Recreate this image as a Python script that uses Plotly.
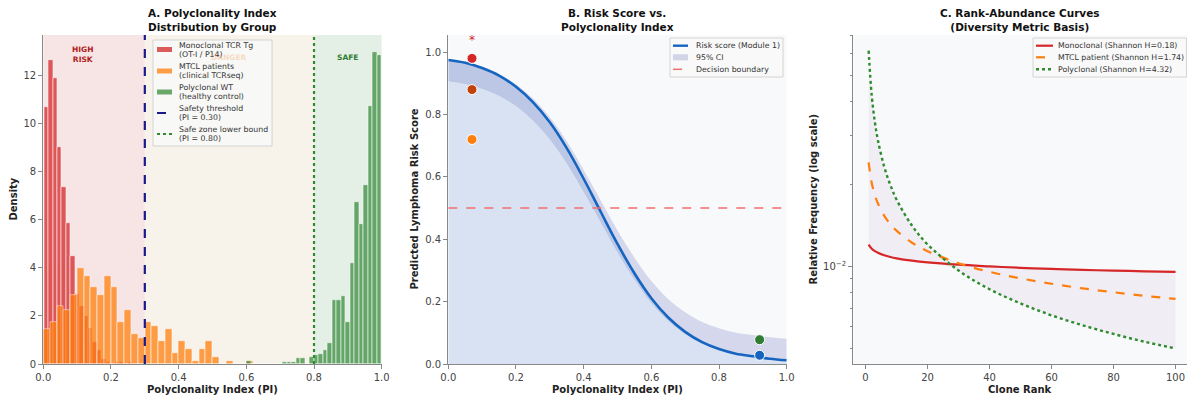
import numpy as np
import plotly.graph_objects as go

W, H = 1187, 396

# ---------------- Panel A: histogram densities ----------------
red_range = (0.002, 0.395)
red_density = [10.7, 12.67, 11.9, 9.03, 7.39, 5.86, 4.5, 2.9, 2.4, 2.0,
               1.5, 0.9, 0.6, 0.2, 0.1, 0.0, 0.1, 0.1, 0.0, 0.1,
               0.0, 0.0, 0.0, 0.0, 0.0, 0.0, 0.0, 0.0, 0.0, 0.0]
orange_range = (0.0, 0.62)
orange_density = [1.44, 1.76, 2.42, 2.25, 2.87, 3.99, 3.68, 3.2, 2.87, 3.68,
                  3.2, 1.76, 2.23, 1.25, 1.1, 1.76, 1.58, 0.96, 1.44, 0.44,
                  0.96, 0.64, 0.14, 0.64, 0.96, 0.29, 0.0, 0.14, 0.0, 0.0, 0.14]
green_range = (0.60, 1.0)
green_density = [0.14, 0.0, 0.0, 0.0, 0.0, 0.0, 0.0, 0.0, 0.1, 0.1,
                 0.1, 0.25, 0.25, 0.0, 0.28, 0.375, 0.42, 0.58, 0.89, 2.67,
                 2.67, 2.83, 1.76, 4.19, 6.74, 5.83, 7.46, 10.76, 13.0, 12.88]
safety_threshold = 0.30
safe_bound = 0.80
legend_a = [("Monoclonal TCR Tg", "(OT-I / P14)"),
            ("MTCL patients", "(clinical TCRseq)"),
            ("Polyclonal WT", "(healthy control)"),
            ("Safety threshold", "(PI = 0.30)"),
            ("Safe zone lower bound", "(PI = 0.80)")]

# ---------------- Panel B: risk curve ----------------
pi_grid = [0.0, 0.05, 0.1, 0.15, 0.2, 0.25, 0.3, 0.35, 0.4, 0.45, 0.5,
           0.55, 0.6, 0.65, 0.7, 0.75, 0.8, 0.85, 0.9, 0.95, 1.0]
risk = [0.975, 0.966, 0.949, 0.925, 0.889, 0.840, 0.775, 0.692, 0.594, 0.489,
        0.385, 0.291, 0.211, 0.149, 0.103, 0.070, 0.048, 0.033, 0.025, 0.017, 0.012]
ci_low = [0.907, 0.898, 0.883, 0.860, 0.827, 0.781, 0.721, 0.644, 0.552, 0.455,
          0.358, 0.271, 0.196, 0.139, 0.096, 0.065, 0.045, 0.031, 0.023, 0.016, 0.011]
ci_high = [0.977, 0.968, 0.953, 0.930, 0.897, 0.851, 0.791, 0.714, 0.622, 0.525,
           0.428, 0.341, 0.266, 0.208, 0.166, 0.135, 0.115, 0.100, 0.093, 0.086, 0.081]
decision_boundary = 0.5
sample_pi = [0.07, 0.07, 0.07, 0.92, 0.92]
sample_risk = [0.98, 0.88, 0.72, 0.078, 0.028]
sample_colors = ["#d62728", "#c2410c", "#ff7f0e", "#2e7d32", "#1565c0"]
legend_b = ["Risk score (Module 1)", "95% CI", "Decision boundary"]

# ---------------- Panel C: rank-abundance ----------------
ranks = [1, 2, 3, 4, 6, 8, 10, 15, 20, 30, 40, 50, 60, 70, 80, 90, 100]
mono = [0.0120, 0.01159, 0.01136, 0.01120, 0.01097, 0.01081, 0.01069, 0.01048,
        0.01033, 0.01013, 0.00999, 0.00987, 0.00978, 0.00970, 0.00964, 0.00958, 0.00953]
mtcl = [0.0240, 0.02018, 0.01824, 0.01697, 0.01533, 0.01427, 0.01350, 0.01219,
        0.01135, 0.01026, 0.00954, 0.00903, 0.00863, 0.00830, 0.00803, 0.00779, 0.00759]
poly = [0.0616, 0.0422, 0.03385, 0.02893, 0.0232, 0.01986, 0.01756, 0.01408,
        0.01203, 0.00965, 0.00824, 0.00731, 0.00661, 0.00608, 0.00565, 0.00529, 0.00500]
curve_names = ["Monoclonal (Shannon H=0.18)", "MTCL patient (Shannon H=1.74)",
               "Polyclonal (Shannon H=4.32)"]

FONT = "DejaVu Sans"
AX = "#888888"
RED, ORANGE, GREEN = "#d62728", "#ff7f0e", "#388e3c"
NAVY, DGREEN, BLUE = "#1a1a8c", "#2e8b2e", "#1565c0"
fig = go.Figure()


def hist_bars(rng, dens, color):
    n = len(dens)
    edges = np.linspace(rng[0], rng[1], n + 1)
    centers = (edges[:-1] + edges[1:]) / 2
    w = edges[1] - edges[0]
    return go.Bar(x=centers, y=dens, width=w, marker_color=color,
                  marker_line=dict(color="white", width=0.6), opacity=0.75,
                  xaxis="x", yaxis="y", showlegend=False)


fig.add_trace(hist_bars(red_range, red_density, RED))
fig.add_trace(hist_bars(orange_range, orange_density, ORANGE))
fig.add_trace(hist_bars(green_range, green_density, GREEN))
fig.add_trace(go.Scatter(x=[safety_threshold] * 2, y=[0, 13.7], mode="lines",
                         line=dict(color=NAVY, width=2.2, dash="dash"),
                         showlegend=False, xaxis="x", yaxis="y"))
fig.add_trace(go.Scatter(x=[safe_bound] * 2, y=[0, 13.7], mode="lines",
                         line=dict(color=DGREEN, width=2.2, dash="dot"),
                         showlegend=False, xaxis="x", yaxis="y"))

# Panel B
fig.add_trace(go.Scatter(x=pi_grid, y=risk, mode="lines", line=dict(width=0, shape="spline"),
                         fill="tozeroy", fillcolor="rgba(120,160,215,0.25)", showlegend=False,
                         hoverinfo="skip", xaxis="x2", yaxis="y2"))
fig.add_trace(go.Scatter(x=pi_grid, y=ci_low, mode="lines", line=dict(width=0, shape="spline"),
                         showlegend=False, hoverinfo="skip", xaxis="x2", yaxis="y2"))
fig.add_trace(go.Scatter(x=pi_grid, y=ci_high, mode="lines", line=dict(width=0, shape="spline"),
                         fill="tonexty", fillcolor="rgba(90,100,180,0.22)", showlegend=False,
                         xaxis="x2", yaxis="y2"))
fig.add_trace(go.Scatter(x=pi_grid, y=risk, mode="lines",
                         line=dict(color=BLUE, width=2.6, shape="spline"),
                         showlegend=False, xaxis="x2", yaxis="y2"))
fig.add_trace(go.Scatter(x=[0, 1], y=[decision_boundary] * 2, mode="lines",
                         line=dict(color="#f26d6d", width=1.5, dash="dash"),
                         showlegend=False, xaxis="x2", yaxis="y2"))
fig.add_trace(go.Scatter(x=sample_pi, y=sample_risk, mode="markers",
                         marker=dict(size=10, color=sample_colors, line=dict(color="white", width=1)),
                         showlegend=False, xaxis="x2", yaxis="y2"))

# Panel C
c_low = np.minimum(np.minimum(mono, mtcl), poly)
c_high = np.maximum(np.maximum(mono, mtcl), poly)
fig.add_trace(go.Scatter(x=ranks, y=c_low, mode="lines", line=dict(width=0, shape="spline"),
                         showlegend=False, hoverinfo="skip", xaxis="x3", yaxis="y3"))
fig.add_trace(go.Scatter(x=ranks, y=c_high, mode="lines", line=dict(width=0, shape="spline"),
                         fill="tonexty", fillcolor="rgba(150,100,180,0.08)", showlegend=False,
                         hoverinfo="skip", xaxis="x3", yaxis="y3"))
fig.add_trace(go.Scatter(x=ranks, y=mono, mode="lines", showlegend=False,
                         line=dict(color=RED, width=2.2, shape="spline"),
                         xaxis="x3", yaxis="y3"))
fig.add_trace(go.Scatter(x=ranks, y=mtcl, mode="lines", showlegend=False,
                         line=dict(color=ORANGE, width=2.2, dash="dash", shape="spline"),
                         xaxis="x3", yaxis="y3"))
fig.add_trace(go.Scatter(x=ranks, y=poly, mode="lines", showlegend=False,
                         line=dict(color=DGREEN, width=2.4, dash="dot", shape="spline"),
                         xaxis="x3", yaxis="y3"))

# ---------------- Layout ----------------
top_px, bot_px = 35, 364
ydom = [1 - bot_px / H, 1 - top_px / H]
dA = [43.3 / W, 381.7 / W]
dB = [448.3 / W, 786.7 / W]
dC = [853.3 / W, 1.0]


def ax_common(**kw):
    d = dict(showline=True, linecolor=AX, linewidth=1.3, ticks="outside", ticklen=4,
             tickcolor=AX, tickwidth=1, showgrid=False, zeroline=False, automargin=False,
             tickfont=dict(family=FONT, size=10, color="#444"))
    d.update(kw)
    return d


dec = [0, 0.2, 0.4, 0.6, 0.8, 1.0]
dec_t = ["0.0", "0.2", "0.4", "0.6", "0.8", "1.0"]


def px(x, y):
    return x / W, 1 - y / H


shapes = [
    dict(type="rect", xref="x", yref="y domain", x0=0, x1=safety_threshold, y0=0, y1=1,
         fillcolor="#f7e4e4", line_width=0, layer="below"),
    dict(type="rect", xref="x", yref="y domain", x0=safety_threshold, x1=safe_bound, y0=0, y1=1,
         fillcolor="#f7f2ea", line_width=0, layer="below"),
    dict(type="rect", xref="x", yref="y domain", x0=safe_bound, x1=1, y0=0, y1=1,
         fillcolor="#e4efe5", line_width=0, layer="below"),
]
ann = []
LEGFONT = dict(family=FONT, size=7.8, color="#333")


def box(x0, y0, x1, y1):
    a, b = px(x0, y0)
    c, d = px(x1, y1)
    shapes.append(dict(type="rect", xref="paper", yref="paper", x0=a, x1=c, y0=d, y1=b,
                       fillcolor="rgba(248,248,248,0.88)", line=dict(color="#cccccc", width=0.8),
                       layer="above"))


def lsample(x0, x1, y, color, width, dash="solid"):
    a, b = px(x0, y)
    c, _ = px(x1, y)
    shapes.append(dict(type="line", xref="paper", yref="paper", x0=a, x1=c, y0=b, y1=b,
                       line=dict(color=color, width=width, dash=dash), layer="above"))


def psample(x0, x1, y0, y1, color):
    a, b = px(x0, y0)
    c, d = px(x1, y1)
    shapes.append(dict(type="rect", xref="paper", yref="paper", x0=a, x1=c, y0=d, y1=b,
                       fillcolor=color, line=dict(width=0), layer="above"))


def ltext(x, y, t):
    a, b = px(x, y)
    ann.append(dict(text=t, x=a, y=b, xref="paper", yref="paper", showarrow=False,
                    xanchor="left", yanchor="middle", font=LEGFONT))


# Legend A
box(153, 40, 272, 146)
rows_a = [49.5, 71, 92, 113, 134]
psample(157, 172, rows_a[0] - 2.5, rows_a[0] + 2.5, "rgba(214,39,40,0.75)")
psample(157, 172, rows_a[1] - 2.5, rows_a[1] + 2.5, "rgba(255,127,14,0.75)")
psample(157, 172, rows_a[2] - 2.5, rows_a[2] + 2.5, "rgba(56,142,60,0.75)")
lsample(157, 172, rows_a[3], NAVY, 2, "dash")
lsample(157, 172, rows_a[4], DGREEN, 2, "dot")
for (l1, l2), yc in zip(legend_a, rows_a):
    ltext(177, yc - 4.2, l1)
    ltext(177, yc + 4.6, l2)

# Legend B
box(670, 38, 783, 77)
rows_b = [45.7, 57.3, 69.3]
lsample(673, 688, rows_b[0], BLUE, 2.4)
psample(673, 688, rows_b[1] - 3, rows_b[1] + 3, "rgba(90,100,180,0.25)")
lsample(673, 688, rows_b[2], "#f26d6d", 1.5, "dash")
for t, yc in zip(legend_b, rows_b):
    ltext(694, yc, t)

# Legend C
box(1033, 38, 1186.5, 77)
rows_c = [45.7, 57.3, 69.3]
lsample(1036, 1053, rows_c[0], RED, 2.2)
lsample(1036, 1053, rows_c[1], ORANGE, 2.2, "dash")
lsample(1036, 1053, rows_c[2], DGREEN, 2.4, "dot")
for t, yc in zip(curve_names, rows_c):
    ltext(1056, yc, t)

fig.update_layout(
    width=W, height=H, margin=dict(l=0, r=0, t=0, b=0, autoexpand=False),
    paper_bgcolor="white", plot_bgcolor="#f8f9fb",
    barmode="overlay", bargap=0, showlegend=False,
    font=dict(family=FONT, color="#333"),
    xaxis=ax_common(domain=dA, range=[0, 1], tickvals=dec, ticktext=dec_t, anchor="y"),
    yaxis=ax_common(domain=ydom, range=[0, 13.7], tickvals=[0, 2, 4, 6, 8, 10, 12], anchor="x"),
    xaxis2=ax_common(domain=dB, range=[0, 1], tickvals=dec, ticktext=dec_t, anchor="y2"),
    yaxis2=ax_common(domain=ydom, range=[0, 1.055], tickvals=dec, ticktext=dec_t, anchor="x2"),
    xaxis3=ax_common(domain=dC, range=[-3.95, 103.7], tickvals=[0, 20, 40, 60, 80, 100], anchor="y3"),
    yaxis3=ax_common(domain=ydom, type="log", range=[-2.358, -1.153], tickvals=[0.01],
                     ticktext=["10<sup>−2</sup>"], anchor="x3",
                     minor=dict(tickvals=[0.005, 0.006, 0.007, 0.008, 0.009, 0.02, 0.03,
                                          0.04, 0.05, 0.06, 0.07],
                                ticks="outside", ticklen=2.5, tickcolor=AX, showgrid=False)),
)

titles = [("A. Polyclonality Index<br>Distribution by Group", dA),
          ("B. Risk Score vs.<br>Polyclonality Index", dB),
          ("C. Rank-Abundance Curves<br>(Diversity Metric Basis)", dC)]
for t, d in titles:
    ann.append(dict(text="<b>" + t + "</b>", x=(d[0] + d[1]) / 2, y=1 - 20 / H, xref="paper",
                    yref="paper", showarrow=False, font=dict(family=FONT, size=10.5, color="#111"),
                    xanchor="center", yanchor="middle"))
for t, d in [("Polyclonality Index (PI)", dA), ("Polyclonality Index (PI)", dB), ("Clone Rank", dC)]:
    ann.append(dict(text="<b>" + t + "</b>", x=(d[0] + d[1]) / 2, y=1 - 389 / H, xref="paper",
                    yref="paper", showarrow=False, font=dict(family=FONT, size=10, color="#222"),
                    xanchor="center", yanchor="middle"))
for t, xp in [("Density", 13), ("Predicted Lymphoma Risk Score", 414), ("Relative Frequency (log scale)", 813)]:
    ann.append(dict(text="<b>" + t + "</b>", x=xp / W, y=1 - 199.5 / H, xref="paper",
                    yref="paper", showarrow=False, textangle=-90,
                    font=dict(family=FONT, size=10, color="#222"),
                    xanchor="center", yanchor="middle"))
ann.append(dict(text="<b>HIGH<br>RISK</b>", x=0.117, y=12.9, xref="x", yref="y", showarrow=False,
                font=dict(family=FONT, size=7.5, color="#b02020")))
ann.append(dict(text="<b>DANGER</b>", x=0.55, y=12.75, xref="x", yref="y", showarrow=False,
                font=dict(family=FONT, size=7.5, color="rgba(245,170,110,0.4)")))
ann.append(dict(text="<b>SAFE</b>", x=0.90, y=12.75, xref="x", yref="y", showarrow=False,
                font=dict(family=FONT, size=7.5, color="#2e7d32")))
ann.append(dict(text="*", x=0.07, y=1.04, xref="x2", yref="y2", showarrow=False,
                font=dict(family=FONT, size=12, color="#d62728")))
fig.update_layout(annotations=ann, shapes=shapes)

fig.write_html("out.html", config={"displayModeBar": False},
               post_script="document.body.style.margin='0px';document.body.style.overflow='hidden';")
